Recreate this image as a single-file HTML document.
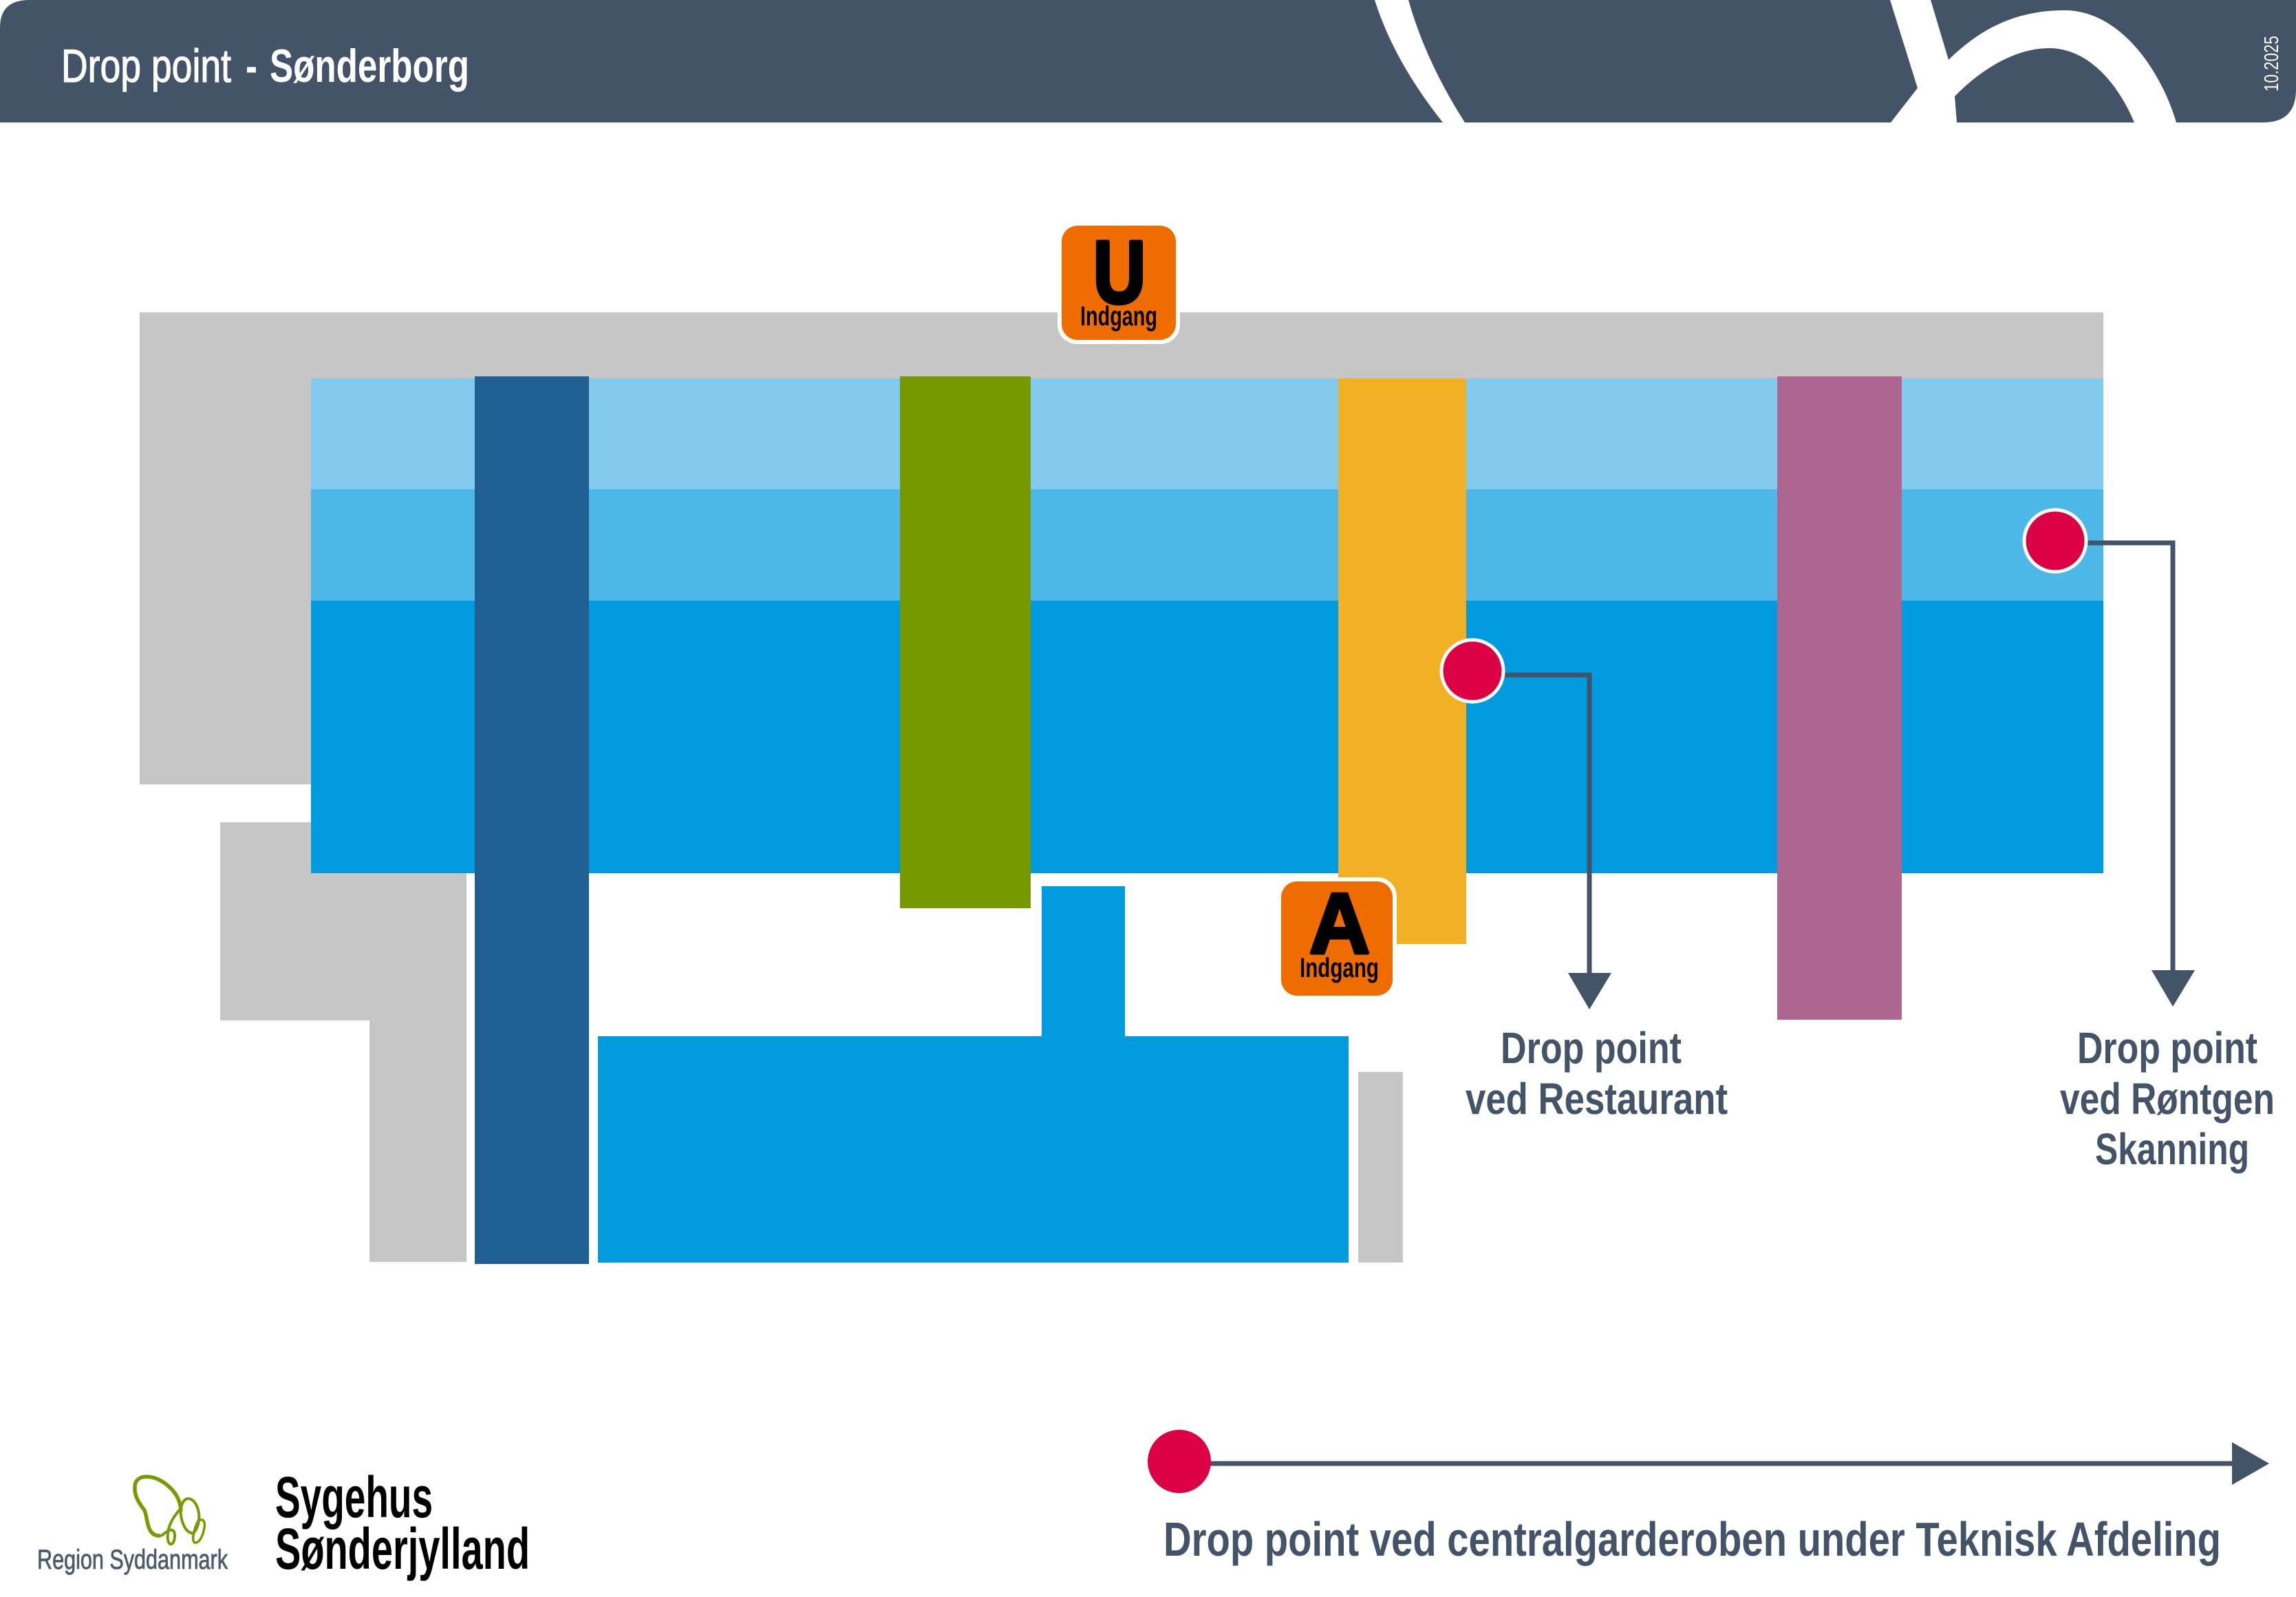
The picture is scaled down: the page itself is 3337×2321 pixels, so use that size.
<!DOCTYPE html>
<html>
<head>
<meta charset="utf-8">
<style>
html,body{margin:0;padding:0;background:#fff;}
svg{display:block;}
text{font-family:"Liberation Sans","DejaVu Sans",sans-serif;}
</style>
</head>
<body>
<svg width="3337" height="2321" viewBox="0 0 3337 2321" xmlns="http://www.w3.org/2000/svg">
<rect width="3337" height="2321" fill="#ffffff"/>

<!-- Header -->
<path d="M43,0 H3337 V130 Q3337,178 3289,178 H0 V40 Q0,0 43,0 Z" fill="#435469"/>
<path d="M1998,0 Q2026,89 2097,178 L2129,178 Q2072,89 2047,0 Z" fill="#ffffff"/>
<path d="M2747,0 L2787,128 L2748,178 L2844,178 L2841,140 C2880,100 2930,70 2978,70 C3040,70 3082,130 3102,178 L3163,178 C3140,100 3080,15 3001,15 C2920,15 2870,50 2832,87 L2806,0 Z" fill="#ffffff"/>

<text x="89" y="119" font-size="68" fill="#ffffff" stroke="#ffffff" stroke-width="1.2" textLength="247" lengthAdjust="spacingAndGlyphs">Drop point</text>
<text x="357" y="119" font-size="68" fill="#ffffff" font-weight="bold" textLength="17" lengthAdjust="spacingAndGlyphs">-</text>
<text x="392" y="119" font-size="68" fill="#ffffff" font-weight="bold" textLength="290" lengthAdjust="spacingAndGlyphs">Sønderborg</text>

<text transform="translate(3311,133) rotate(-90)" font-size="29" fill="#ffffff" textLength="81" lengthAdjust="spacingAndGlyphs">10.2025</text>

<!-- Map: gray areas -->
<rect x="203" y="454" width="2854" height="96" fill="#c6c6c6"/>
<rect x="203" y="454" width="249" height="686" fill="#c6c6c6"/>
<rect x="320" y="1195" width="358" height="288" fill="#c6c6c6"/>
<rect x="537" y="1480" width="141" height="354" fill="#c6c6c6"/>

<!-- Blue bands -->
<rect x="452" y="550" width="2605" height="161" fill="#83cbee"/>
<rect x="452" y="711" width="2605" height="162" fill="#4db7e7"/>
<rect x="452" y="873" width="2605" height="396" fill="#009bde"/>

<!-- Columns -->
<rect x="690" y="547" width="166" height="1290" fill="#1f5f91"/>
<rect x="1308" y="547" width="190" height="773" fill="#779900"/>
<rect x="1514" y="1288" width="121" height="220" fill="#009bde"/>
<rect x="869" y="1506" width="1091" height="329" fill="#009bde"/>
<rect x="1974" y="1558" width="65" height="277" fill="#c6c6c6"/>
<rect x="1945" y="550" width="186" height="822" fill="#f2b124"/>
<rect x="2583" y="547" width="181" height="935" fill="#ad668f"/>

<!-- U badge -->
<rect x="1537" y="322" width="178" height="178" rx="28" fill="#ffffff"/>
<rect x="1543" y="328" width="166" height="166" rx="23" fill="#ef6c00"/>
<text x="1589" y="440" font-size="128" font-weight="bold" fill="#000000" stroke="#000000" stroke-width="6" stroke-linejoin="round" textLength="76" lengthAdjust="spacingAndGlyphs">U</text>
<text x="1570" y="473" font-size="40" font-weight="bold" fill="#000000" textLength="112" lengthAdjust="spacingAndGlyphs">Indgang</text>

<!-- A badge -->
<rect x="1856" y="1275" width="174" height="178" rx="28" fill="#ffffff"/>
<rect x="1862" y="1281" width="162" height="166" rx="23" fill="#ef6c00"/>
<text x="1903" y="1385" font-size="124" font-weight="bold" fill="#000000" stroke="#000000" stroke-width="5" stroke-linejoin="round" textLength="88" lengthAdjust="spacingAndGlyphs">A</text>
<text x="1889" y="1420" font-size="40" font-weight="bold" fill="#000000" textLength="115" lengthAdjust="spacingAndGlyphs">Indgang</text>

<!-- Connectors -->
<polyline points="2180,981 2310,981 2310,1418" fill="none" stroke="#435469" stroke-width="7"/>
<polygon points="2279,1414 2342,1414 2310,1467" fill="#435469"/>
<polyline points="3027,789 3158,789 3158,1414" fill="none" stroke="#435469" stroke-width="7"/>
<polygon points="3127,1410 3190,1410 3158,1463" fill="#435469"/>

<!-- Red dots -->
<circle cx="2140" cy="975" r="45" fill="#dc0045" stroke="#ffffff" stroke-width="5"/>
<circle cx="2987" cy="786" r="45" fill="#dc0045" stroke="#ffffff" stroke-width="5"/>

<!-- Labels -->
<text x="2181" y="1545" font-size="64" font-weight="bold" fill="#435469" textLength="263" lengthAdjust="spacingAndGlyphs">Drop point</text>
<text x="2130" y="1619" font-size="64" font-weight="bold" fill="#435469" textLength="381" lengthAdjust="spacingAndGlyphs">ved Restaurant</text>
<text x="3019" y="1545" font-size="64" font-weight="bold" fill="#435469" textLength="262" lengthAdjust="spacingAndGlyphs">Drop point</text>
<text x="2994" y="1619" font-size="64" font-weight="bold" fill="#435469" textLength="312" lengthAdjust="spacingAndGlyphs">ved Røntgen</text>
<text x="3045" y="1692" font-size="64" font-weight="bold" fill="#435469" textLength="224" lengthAdjust="spacingAndGlyphs">Skanning</text>

<!-- Legend -->
<line x1="1714" y1="2127" x2="3250" y2="2127" stroke="#435469" stroke-width="7"/>
<polygon points="3244,2096 3298,2127 3244,2158" fill="#435469"/>
<circle cx="1714" cy="2124" r="46" fill="#dc0045"/>
<text x="1691" y="2261" font-size="70" font-weight="bold" fill="#435469" textLength="1537" lengthAdjust="spacingAndGlyphs">Drop point ved centralgarderoben under Teknisk Afdeling</text>

<!-- Region Syddanmark logo -->
<g fill="none" stroke="#7a9a01" stroke-linecap="round" stroke-linejoin="round">
  <path d="M232,2232 C212,2232 215,2205 210,2195 C200,2182 193,2170 197,2155 C202,2143 222,2143 240,2156 C255,2167 262,2180 263,2195" stroke-width="5.5"/>
  <path d="M263,2192 C250,2206 242,2222 244,2238 C246,2249 254,2244 254,2232 C254,2220 246,2222 236,2231" stroke-width="4"/>
  <path d="M263,2203 C261,2190 266,2178 274,2178 C284,2179 291,2195 289,2210 C287,2222 282,2230 278,2228 C270,2226 265,2215 263,2203" stroke-width="4"/>
  <path d="M287,2212 C292,2206 299,2208 297,2220 C295,2232 290,2243 283,2242 C279,2240 280,2228 287,2212" stroke-width="3.5"/>
</g>
<text x="54" y="2280" font-size="40" fill="#4b5b6f" stroke="#4b5b6f" stroke-width="0.8" textLength="277" lengthAdjust="spacingAndGlyphs">Region Syddanmark</text>

<!-- Sygehus Sønderjylland -->
<text x="400" y="2205" font-size="84" font-weight="bold" fill="#000000" textLength="229" lengthAdjust="spacingAndGlyphs">Sygehus</text>
<text x="400" y="2280" font-size="84" font-weight="bold" fill="#000000" textLength="370" lengthAdjust="spacingAndGlyphs">Sønderjylland</text>
</svg>
</body>
</html>
